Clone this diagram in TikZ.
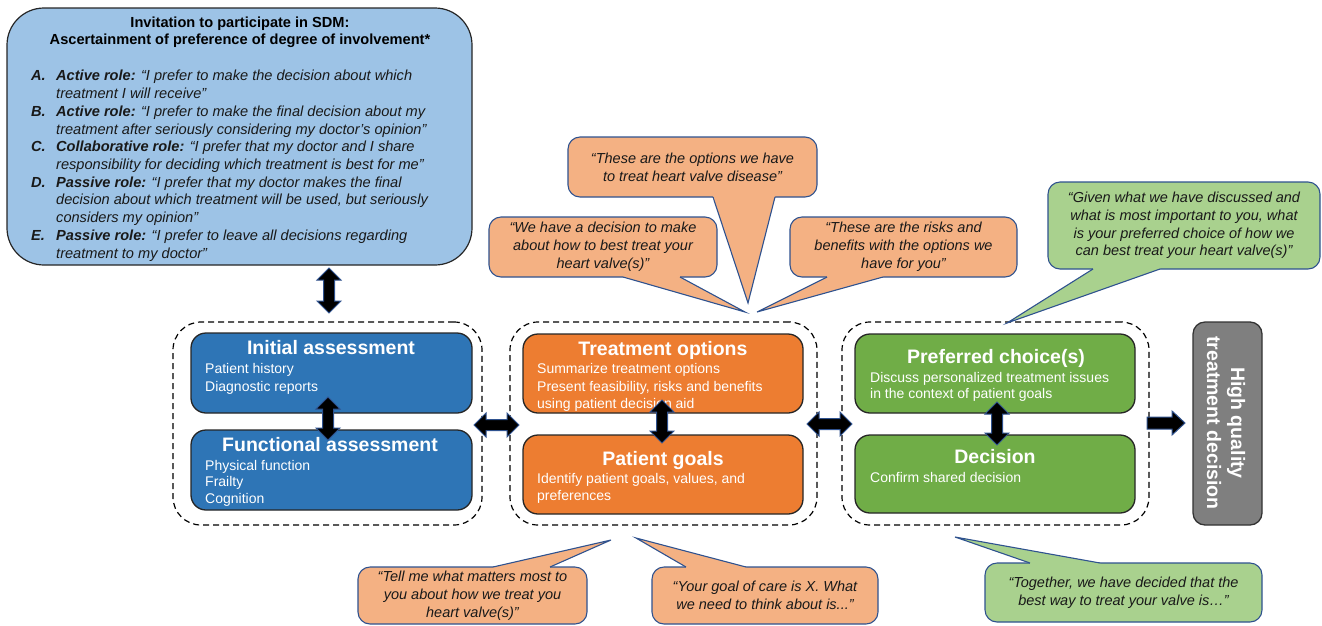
\documentclass[tikz,border=0pt]{standalone}
\usepackage{fontspec}
\setmainfont{Liberation Sans}
\usetikzlibrary{calc}
\definecolor{lblue}{HTML}{9DC3E6}
\definecolor{dblue}{HTML}{2E75B6}
\definecolor{orng}{HTML}{ED7D31}
\definecolor{grn}{HTML}{70AD47}
\definecolor{lorng}{HTML}{F4B183}
\definecolor{lgrn}{HTML}{A9D18E}
\definecolor{edgeblue}{HTML}{2F528F}
\definecolor{gry}{HTML}{7F7F7F}
\tikzset{
  box/.style={draw=black!85, line width=1.3pt, rounded corners=15pt, inner sep=0pt},
  grp/.style={draw=black, dash pattern=on 6pt off 4pt, line width=1.2pt, rounded corners=28pt, inner sep=0pt},
  quote/.style={draw=edgeblue, line width=1.1pt, rounded corners=12pt, align=center, inner sep=0pt, font=\fontsize{14.5}{17.8}\selectfont\itshape, text=black!90},
  ttl/.style={text=white, font=\fontsize{19.5}{24}\selectfont\bfseries, anchor=base},
  itm/.style={text=white, font=\fontsize{14}{17.5}\selectfont, anchor=base west, inner sep=0pt},
  lst/.style={text=black!90, font=\fontsize{14.6}{17.8}\selectfont\itshape, anchor=base west, inner sep=0pt},
  blockarrow/.style={fill=black, draw=edgeblue, line width=1pt, line join=miter},
  tailline/.style={draw=edgeblue, line width=1.1pt, line join=miter},
}
\newcommand\vdarrow[2]{\draw[blockarrow] (#1) -- ($(#1)+(12,12)$) -- ($(#1)+(5.5,12)$) -- ($(#2)+(5.5,-12)$) -- ($(#2)+(12,-12)$) -- (#2) -- ($(#2)+(-12,-12)$) -- ($(#2)+(-5.5,-12)$) -- ($(#1)+(-5.5,12)$) -- ($(#1)+(-12,12)$) -- cycle;}
\newcommand\hdarrow[2]{\draw[blockarrow] (#1) -- ($(#1)+(12,-12)$) -- ($(#1)+(12,-5.5)$) -- ($(#2)+(-12,-5.5)$) -- ($(#2)+(-12,-12)$) -- (#2) -- ($(#2)+(-12,12)$) -- ($(#2)+(-12,5.5)$) -- ($(#1)+(12,5.5)$) -- ($(#1)+(12,12)$) -- cycle;}
\newcommand\rarrow[2]{\draw[blockarrow] ($(#1)+(0,-6)$) -- ($(#2)+(-13,-6)$) -- ($(#2)+(-13,-12)$) -- (#2) -- ($(#2)+(-13,12)$) -- ($(#2)+(-13,6)$) -- ($(#1)+(0,6)$) -- cycle;}
% tail: #1 base left, #2 tip, #3 base right, #4 fill colour, #5 inward y offset
\newcommand\calltail[5]{\fill[#4] ($(#1)+(0,#5)$) -- (#1) -- (#2) -- (#3) -- ($(#3)+(0,#5)$) -- cycle;
  \draw[tailline] (#1) -- (#2) -- (#3);}
\begin{document}
\begin{tikzpicture}[x=1pt,y=-1pt]
\useasboundingbox (0,0) rectangle (1322,625);

% ---------- intro callout ----------
\node[draw=black!85, line width=1.2pt, fill=lblue, rounded corners=37pt, minimum width=465pt, minimum height=257pt, inner sep=0pt] (intro) at (239.5,136.5) {};
\node[font=\fontsize{14.6}{17.5}\selectfont\bfseries, anchor=base, inner sep=0pt] (t1) at (240,27) {Invitation to participate in SDM:};
\node[font=\fontsize{14.6}{17.5}\selectfont\bfseries, anchor=base, inner sep=0pt] (t2) at (240,44) {Ascertainment of preference of degree of involvement*};
\node[lst] (la) at (31,80) {\textbf{A.}};
\node[lst] (l1) at (56,80) {\textbf{Active role:} “I prefer to make the decision about which};
\node[lst] (l2) at (56,98) {treatment I will receive”};
\node[lst] (lb) at (31,116) {\textbf{B.}};
\node[lst] (l3) at (56,116) {\textbf{Active role:} “I prefer to make the final decision about my};
\node[lst] (l4) at (56,134) {treatment after seriously considering my doctor’s opinion”};
\node[lst] (lc) at (31,151) {\textbf{C.}};
\node[lst] (l5) at (56,151) {\textbf{Collaborative role:} “I prefer that my doctor and I share};
\node[lst] (l6) at (56,169) {responsibility for deciding which treatment is best for me”};
\node[lst] (ld) at (31,187) {\textbf{D.}};
\node[lst] (l7) at (56,187) {\textbf{Passive role:} “I prefer that my doctor makes the final};
\node[lst] (l8) at (56,204) {decision about which treatment will be used, but seriously};
\node[lst] (l9) at (56,222) {considers my opinion”};
\node[lst] (le) at (31,240) {\textbf{E.}};
\node[lst] (l10) at (56,240) {\textbf{Passive role:} “I prefer to leave all decisions regarding};
\node[lst] (l11) at (56,258) {treatment to my doctor”};

% ---------- groups ----------
\node[grp, minimum width=309pt, minimum height=203pt] (g1) at (327.5,423.5) {};
\node[grp, minimum width=307pt, minimum height=203pt] (g2) at (663.5,423.5) {};
\node[grp, minimum width=307pt, minimum height=203pt] (g3) at (995.5,423.5) {};

% ---------- boxes ----------
\node[box, fill=dblue, minimum width=281pt, minimum height=80pt] (ia) at (331.5,373) {};
\node[box, fill=dblue, minimum width=281pt, minimum height=80pt] (fa) at (331.5,470) {};
\node[box, fill=orng, minimum width=280pt, minimum height=79pt] (to) at (663,373.5) {};
\node[box, fill=orng, minimum width=280pt, minimum height=79pt] (pg) at (663,474.5) {};
\node[box, fill=grn, minimum width=280pt, minimum height=79pt] (pc) at (995,373.5) {};
\node[box, fill=grn, minimum width=280pt, minimum height=78pt] (de) at (995,474) {};
\node[draw=black!80, line width=1.3pt, fill=gry, rounded corners=12pt, minimum width=69pt, minimum height=203pt, inner sep=0pt] (hq) at (1227.5,423.5) {};
\node[text=white, font=\fontsize{19.5}{24}\selectfont\bfseries, rotate=-90, align=center, inner sep=0pt] (hqt) at (1226,423) {High quality\\treatment decision};

% titles and items
\node[ttl] (iat) at (331,354) {Initial assessment};
\node[itm] (ia1) at (205,373) {Patient history};
\node[itm] (ia2) at (205,391) {Diagnostic reports};
\node[ttl] (fat) at (330,451) {Functional assessment};
\node[itm] (fa1) at (205,470) {Physical function};
\node[itm] (fa2) at (205,486) {Frailty};
\node[itm] (fa3) at (205,503) {Cognition};
\node[ttl] (tot) at (663,355) {Treatment options};
\node[itm] (to1) at (537,373) {Summarize treatment options};
\node[itm] (to2) at (537,391) {Present feasibility, risks and benefits};
\node[itm] (to3) at (537,408) {using patient decision aid};
\node[ttl] (pgt) at (663,465) {Patient goals};
\node[itm] (pg1) at (537,483) {Identify patient goals, values, and};
\node[itm] (pg2) at (537,500) {preferences};
\node[ttl] (pct) at (996,363) {Preferred choice(s)};
\node[itm] (pc1) at (870,382) {Discuss personalized treatment issues};
\node[itm] (pc2) at (870,398) {in the context of patient goals};
\node[ttl] (det) at (995,463) {Decision};
\node[itm] (de1) at (870,482) {Confirm shared decision};

% ---------- block arrows ----------
\coordinate (a0s) at (329,268); \coordinate (a0e) at (329,313);
\coordinate (a1s) at (328,397); \coordinate (a1e) at (328,440);
\coordinate (a2s) at (474,425); \coordinate (a2e) at (519,425);
\coordinate (a3s) at (662,400); \coordinate (a3e) at (662,443);
\coordinate (a4s) at (807,424); \coordinate (a4e) at (852,424);
\coordinate (a5s) at (997,402); \coordinate (a5e) at (997,445);
\coordinate (a6s) at (1147,423); \coordinate (a6e) at (1185,423);
\vdarrow{a0s}{a0e}
\vdarrow{a1s}{a1e}
\hdarrow{a2s}{a2e}
\vdarrow{a3s}{a3e}
\hdarrow{a4s}{a4e}
\vdarrow{a5s}{a5e}
\rarrow{a6s}{a6e}

% ---------- quote callouts ----------
\node[quote, fill=lorng, minimum width=249pt, minimum height=60pt] (q1) at (692.5,167) {“These are the options we have\\to treat heart valve disease”};
\node[quote, fill=lorng, minimum width=228pt, minimum height=60pt] (q2) at (603,247) {“We have a decision to make\\about how to best treat your\\heart valve(s)”};
\node[quote, fill=lorng, minimum width=227pt, minimum height=60pt] (q3) at (903.5,247) {“These are the risks and\\benefits with the options we\\have for you”};
\node[quote, fill=lgrn, minimum width=272pt, minimum height=87pt] (q4) at (1184,225.5) {“Given what we have discussed and\\what is most important to you, what\\is your preferred choice of how we\\can best treat your heart valve(s)”};
\node[quote, fill=lorng, minimum width=229pt, minimum height=57pt] (q5) at (472.5,595.5) {“Tell me what matters most to\\you about how we treat you\\heart valve(s)”};
\node[quote, fill=lorng, minimum width=226pt, minimum height=57pt] (q6) at (765,595.5) {“Your goal of care is X. What\\we need to think about is...”};
\node[quote, fill=lgrn, minimum width=277pt, minimum height=59pt] (q7) at (1123.5,592.5) {“Together, we have decided that the\\best way to treat your valve is…”};

\coordinate (t1a) at (713,197); \coordinate (t1t) at (748,303); \coordinate (t1b) at (775,197);
\coordinate (t2a) at (623,277); \coordinate (t2t) at (745,312); \coordinate (t2b) at (680,277);
\coordinate (t3a) at (827,277); \coordinate (t3t) at (757,312); \coordinate (t3b) at (883,277);
\coordinate (t4a) at (1093,269); \coordinate (t4t) at (1007,323); \coordinate (t4b) at (1160,269);
\coordinate (t5a) at (493,567); \coordinate (t5t) at (611,540); \coordinate (t5b) at (550,567);
\coordinate (t6a) at (686,567); \coordinate (t6t) at (636,538); \coordinate (t6b) at (746,567);
\coordinate (t7a) at (1030,563); \coordinate (t7t) at (955,537); \coordinate (t7b) at (1100,563);
\calltail{t1a}{t1t}{t1b}{lorng}{-2}
\calltail{t2a}{t2t}{t2b}{lorng}{-2}
\calltail{t3a}{t3t}{t3b}{lorng}{-2}
\calltail{t4a}{t4t}{t4b}{lgrn}{-2}
\calltail{t5a}{t5t}{t5b}{lorng}{2}
\calltail{t6a}{t6t}{t6b}{lorng}{2}
\calltail{t7a}{t7t}{t7b}{lgrn}{2}
\end{tikzpicture}
\end{document}
